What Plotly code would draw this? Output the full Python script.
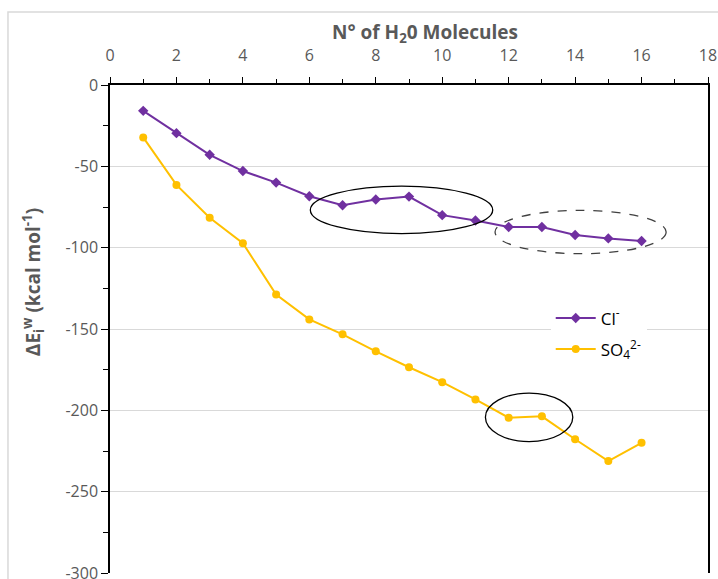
import plotly.graph_objects as go

n_water = list(range(1, 17))
cl_values = [-15.9, -29.6, -42.9, -52.9, -60.0, -68.4, -73.9, -70.4, -68.6, -80.0,
             -83.3, -87.3, -87.3, -92.2, -94.3, -95.9]
so4_values = [-32.2, -61.4, -81.6, -97.3, -128.8, -144.1, -153.3, -163.7, -173.5, -182.7,
              -193.3, -204.5, -203.7, -217.8, -231.2, -220.0]
x_ticks = list(range(0, 19, 2))
y_ticks = list(range(0, -301, -50))

PURPLE = "#7030A0"
GOLD = "#FFC000"
GREY = "#595959"
FONT = "Open Sans"

fig = go.Figure()
fig.add_trace(go.Scatter(x=n_water, y=cl_values, mode="lines+markers", name="Cl<sup>-</sup>",
                         legendgroup="a",
                         line=dict(color=PURPLE, width=2),
                         marker=dict(symbol="diamond", size=8, color=PURPLE)))
fig.add_trace(go.Scatter(x=n_water, y=so4_values, mode="lines+markers", name="SO<sub>4</sub><sup>2-</sup>",
                         legendgroup="b",
                         line=dict(color=GOLD, width=2),
                         marker=dict(symbol="circle", size=8, color=GOLD)))

# highlight ellipses
fig.add_shape(type="circle", xref="x", yref="y", x0=6.03, x1=11.52, y0=-62.2, y1=-91.4,
              line=dict(color="black", width=1.3))
fig.add_shape(type="circle", xref="x", yref="y", x0=11.59, x1=16.74, y0=-77.1, y1=-103.7,
              line=dict(color="#404040", width=1.3, dash="dash"))
fig.add_shape(type="circle", xref="x", yref="y", x0=11.30, x1=13.93, y0=-189.4, y1=-219.2,
              line=dict(color="black", width=1.3))
# chart-area border
fig.add_shape(type="rect", xref="paper", yref="paper", x0=-0.1706, x1=1.1, y0=-0.2, y1=1.1496,
              line=dict(color="#d9d9d9", width=1.5), layer="below")

# axis titles
fig.add_annotation(text="<b>N° of H<sub>2</sub>0 Molecules</b>", xref="paper", yref="paper",
                   x=0.527, y=1.1066, xanchor="center", yanchor="middle", showarrow=False,
                   font=dict(size=19, color=GREY, family=FONT))
fig.add_annotation(text="<b>ΔE<sub>i</sub><sup>w</sup> (kcal mol<sup>-1</sup>)</b>", xref="paper", yref="paper",
                   x=-0.1288, y=0.596, xanchor="center", yanchor="middle", showarrow=False,
                   textangle=-90, font=dict(size=19, color=GREY, family=FONT))

fig.update_layout(
    width=718, height=579,
    margin=dict(l=110, r=10, t=85, b=6, autoexpand=False),
    paper_bgcolor="white", plot_bgcolor="white",
    font=dict(family=FONT, color=GREY, size=16),
    showlegend=True,
    legend=dict(x=0.737, y=0.49, xanchor="left", yanchor="middle",
                bgcolor="white", font=dict(size=17, color="black", family=FONT),
                itemwidth=40, tracegroupgap=6),
)
fig.update_xaxes(
    side="top", range=[0, 18], tickvals=x_ticks, ticktext=[str(v) for v in x_ticks],
    showgrid=False, zeroline=False, automargin=False, ticklabeloverflow="allow",
    showline=True, linecolor="black", linewidth=1.5,
    ticks="outside", ticklen=6, tickcolor="black", tickwidth=1.2,
    ticklabelstandoff=10,
    minor=dict(dtick=1, ticks="outside", ticklen=4, tickcolor="black"),
    tickfont=dict(size=16, color=GREY),
)
fig.update_yaxes(
    range=[-300, 0], tickvals=y_ticks, ticktext=[str(v) for v in y_ticks],
    showgrid=True, gridcolor="#d9d9d9", gridwidth=1.2, zeroline=False, automargin=False,
    ticklabeloverflow="allow",
    showline=True, linecolor="black", linewidth=1.5, mirror=True,
    ticks="outside", ticklen=7, tickcolor="black", tickwidth=1.2,
    minor=dict(dtick=25, ticks="outside", ticklen=5, tickcolor="black", showgrid=False),
    tickfont=dict(size=16, color=GREY),
)

fig.write_html("out.html", config={"displayModeBar": False},
               post_script="document.body.style.margin='0';document.body.style.overflow='hidden';")
